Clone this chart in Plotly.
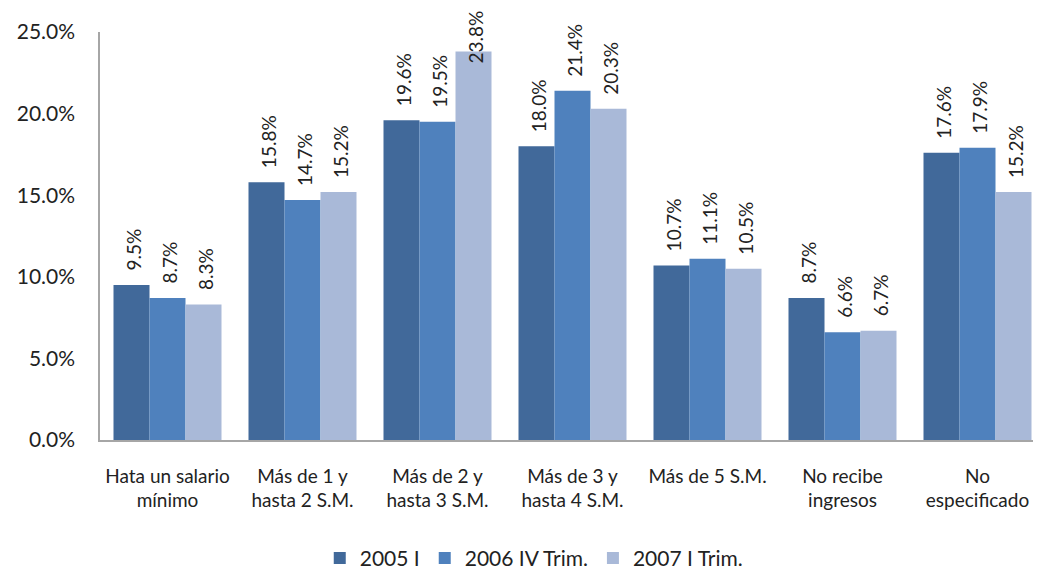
import plotly.graph_objects as go

categories = ["Hata un salario<br>mínimo", "Más de 1 y<br>hasta 2 S.M.", "Más de 2 y<br>hasta 3 S.M.",
              "Más de 3 y<br>hasta 4 S.M.", "Más de 5 S.M.", "No recibe<br>ingresos", "No<br>especificado"]
series_names = ["2005 I", "2006 IV Trim.", "2007 I Trim."]
s2005 = [9.5, 15.8, 19.6, 18.0, 10.7, 8.7, 17.6]
s2006 = [8.7, 14.7, 19.5, 21.4, 11.1, 6.6, 17.9]
s2007 = [8.3, 15.2, 23.8, 20.3, 10.5, 6.7, 15.2]
colors = ["#41699A", "#4F81BD", "#A9B9D8"]
y_ticks = [0, 5, 10, 15, 20, 25]

W, H = 1041, 578
ML, MR, MT, MB = 92, 4, 24, 146
BARGAP = 0.2
n_cat = len(categories)
cat_px = (W - ML - MR) / n_cat
bar_px = cat_px * (1 - BARGAP) / len(series_names)

fig = go.Figure()
annotations = []
for j, (name, vals, c) in enumerate(zip(series_names, [s2005, s2006, s2007], colors)):
    fig.add_trace(go.Bar(
        x=categories, y=vals, name=name, marker_color=c,
        marker_line_width=0,
    ))
    for cat, v in zip(categories, vals):
        near_top = v > 22.5
        annotations.append(dict(
            x=cat, y=v, xref="x", yref="y", text=f"{v:.1f}%", showarrow=False,
            textangle=-90, xanchor="center", yanchor="bottom",
            xshift=(j - 1) * bar_px + 2, yshift=-14 if near_top else 12,
            font=dict(size=19, color="#222222"),
        ))

fig.update_layout(
    width=W, height=H,
    margin=dict(l=ML, r=MR, t=MT, b=MB),
    paper_bgcolor="white", plot_bgcolor="white",
    font=dict(family="Lato, Noto Sans, sans-serif", color="#222222"),
    barmode="group", bargap=BARGAP, bargroupgap=0,
    annotations=annotations,
    legend=dict(orientation="h", x=0.459, xanchor="center", y=-0.29, yanchor="middle",
                font=dict(size=21), traceorder="normal", itemwidth=30),
    showlegend=True,
)
fig.update_yaxes(range=[0, 25], tickvals=y_ticks, ticktext=[f"{t:.1f}%" for t in y_ticks],
                 showgrid=False, showline=True, linecolor="#A6A6A6", linewidth=1.5,
                 ticks="", tickfont=dict(size=21), zeroline=False, ticklabelstandoff=19)
fig.update_xaxes(showline=True, linecolor="#A6A6A6", linewidth=1.5, ticks="",
                 tickfont=dict(size=19), showgrid=False, ticklabelstandoff=18)

fig.write_html("out.html")
